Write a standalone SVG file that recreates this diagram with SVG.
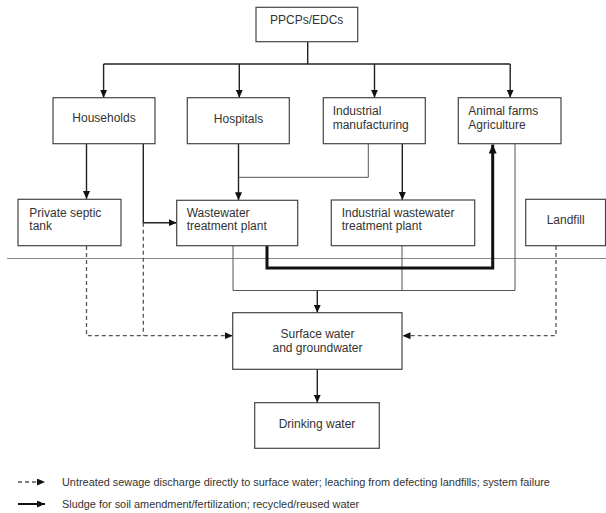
<svg xmlns="http://www.w3.org/2000/svg" width="606" height="513" viewBox="0 0 606 513">
<defs>
<style>
.box{fill:#fff;stroke:#444;stroke-width:1.2}
.t{font-family:"Liberation Sans",Arial,sans-serif;font-size:12px;fill:#333}
.c{text-anchor:middle}
.lg{font-family:"Liberation Sans",Arial,sans-serif;font-size:10.9px;fill:#333}
.a{fill:none;stroke:#222;stroke-width:1.4}
.l{fill:none;stroke:#555;stroke-width:1}
.d{fill:none;stroke:#555;stroke-width:1.3;stroke-dasharray:4 3}
.k{fill:none;stroke:#111;stroke-width:3}
.div{stroke:#888;stroke-width:1}
</style>
<marker id="arr" markerUnits="userSpaceOnUse" markerWidth="8" markerHeight="7" refX="8" refY="3.5" orient="auto"><path d="M0,0 L8,3.5 L0,7 z" fill="#111"/></marker>
<marker id="arrT" markerUnits="userSpaceOnUse" markerWidth="9" markerHeight="8" refX="9" refY="4" orient="auto"><path d="M0,0 L9,4 L0,8 z" fill="#111"/></marker>
</defs>
<rect width="606" height="513" fill="#fff"/>
<line class="div" x1="7" y1="258.5" x2="606" y2="258.5"/>
<g id="connectors">
<path class="a" d="M307.7,41.7 V64 M103.6,64 H510.2"/>
<path class="a" d="M103.6,64 V97.7" marker-end="url(#arr)"/>
<path class="a" d="M239.3,64 V97.7" marker-end="url(#arr)"/>
<path class="a" d="M374.5,64 V97.7" marker-end="url(#arr)"/>
<path class="a" d="M510.2,64 V97.7" marker-end="url(#arr)"/>
<path class="a" d="M86.5,143.7 V199" marker-end="url(#arr)"/>
<path class="a" d="M143.3,143.7 V222.7 H176.7" marker-end="url(#arr)"/>
<path class="a" d="M238.5,143.7 V200.3" marker-end="url(#arr)"/>
<path class="l" d="M368.3,143.7 V177.3 H238.5"/>
<path class="a" d="M402.3,143.7 V200" marker-end="url(#arr)"/>
<path class="l" d="M233,245.7 V290.5 H515 V143.7 M402,245.7 V290.5"/>
<path class="a" d="M317.3,290.5 V312.7" marker-end="url(#arr)"/>
<path class="k" d="M267,245.7 V268 H492.7 V144.5" marker-end="url(#arrT)"/>
<path class="d" d="M86.5,246 V335.7 H232.7" marker-end="url(#arr)"/>
<path class="d" d="M143.3,222.7 V335.7"/>
<path class="d" d="M556,246 V335.7 H402.5" marker-end="url(#arr)"/>
<path class="a" d="M317.3,369.3 V402.7" marker-end="url(#arr)"/>
</g>
<g id="ppcps"><rect class="box" x="256" y="7.3" width="101.7" height="34.4"/><text class="t c" x="306.7" y="24.3">PPCPs/EDCs</text></g>
<g id="households"><rect class="box" x="53" y="97.7" width="102" height="46"/><text class="t c" x="104" y="121.5">Households</text></g>
<g id="hospitals"><rect class="box" x="187.3" y="97.7" width="102" height="46"/><text class="t c" x="238.5" y="122.5">Hospitals</text></g>
<g id="industrial"><rect class="box" x="323.3" y="97.7" width="102" height="46"/><text class="t" x="332.7" y="114.5">Industrial</text><text class="t" x="332.7" y="129">manufacturing</text></g>
<g id="animal"><rect class="box" x="458.3" y="97.7" width="102.7" height="46"/><text class="t" x="468.3" y="114.5">Animal farms</text><text class="t" x="468.3" y="129">Agriculture</text></g>
<g id="septic"><rect class="box" x="18" y="199.3" width="103" height="46.4"/><text class="t" x="29.3" y="216.5">Private septic</text><text class="t" x="29.3" y="230">tank</text></g>
<g id="wwtp"><rect class="box" x="176.7" y="200.3" width="121" height="45.4"/><text class="t" x="186.7" y="216.5">Wastewater</text><text class="t" x="186.7" y="230">treatment plant</text></g>
<g id="iwwtp"><rect class="box" x="331.3" y="200" width="143.4" height="45.7"/><text class="t" x="341.7" y="216.5">Industrial wastewater</text><text class="t" x="341.7" y="230">treatment plant</text></g>
<g id="landfill"><rect class="box" x="525.7" y="199.3" width="79.8" height="46.4"/><text class="t c" x="565.7" y="223.6">Landfill</text></g>
<g id="surface"><rect class="box" x="232.7" y="312.7" width="169.3" height="56.6"/><text class="t c" x="317.5" y="337.5">Surface water</text><text class="t c" x="317.5" y="351.5">and groundwater</text></g>
<g id="drinking"><rect class="box" x="254.7" y="402.7" width="124.6" height="45.6"/><text class="t c" x="317" y="428.3">Drinking water</text></g>
<g id="legend">
<path class="d" d="M18,482 H45" marker-end="url(#arr)"/>
<text class="lg" x="62" y="485.8">Untreated sewage discharge directly to surface water; leaching from defecting landfills; system failure</text>
<path d="M18,504 H45" fill="none" stroke="#111" stroke-width="2" marker-end="url(#arr)"/>
<text class="lg" x="62" y="507.8">Sludge for soil amendment/fertilization; recycled/reused water</text>
</g>
</svg>
